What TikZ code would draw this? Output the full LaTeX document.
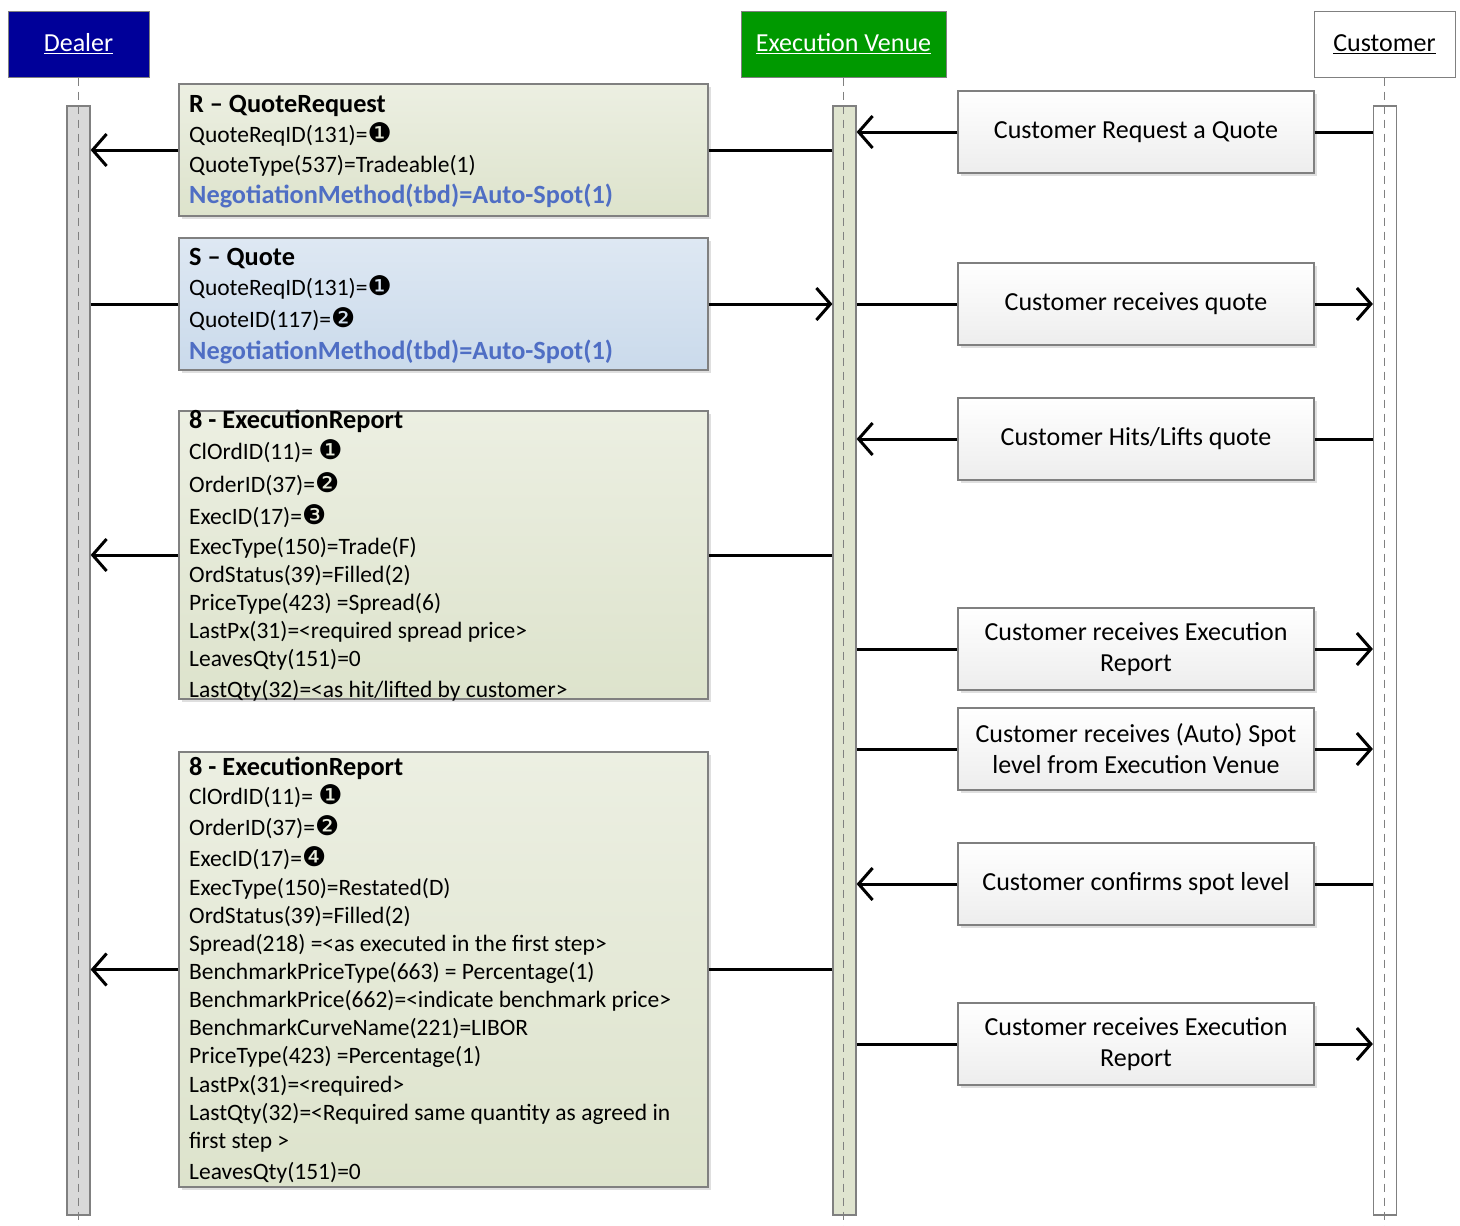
\documentclass[tikz,border=0pt]{standalone}
\usepackage{fontspec}
\setmainfont{Carlito}
\newfontfamily\dv{DejaVu Sans}
\usetikzlibrary{arrows.meta,shadows}
\definecolor{dealerblue}{RGB}{0,0,153}
\definecolor{venuegreen}{RGB}{0,153,0}
\definecolor{bordergray}{RGB}{128,128,128}
\definecolor{olivetop}{RGB}{236,239,226}
\definecolor{olivebot}{RGB}{221,227,204}
\definecolor{bluetop}{RGB}{222,232,243}
\definecolor{bluebot}{RGB}{202,218,235}
\definecolor{evbarfill}{RGB}{223,228,207}
\definecolor{negblue}{RGB}{79,110,196}
\newcommand\cn[1]{{\dv\fontsize{27}{28}\selectfont #1}}
\newcommand\bt[1]{{\fontsize{26.3}{28}\selectfont\bfseries #1}}
\newcommand\tl[3]{\node[lefttext] (#1) at (189,#2) {#3};}
\tikzset{
  head/.style={draw=bordergray, line width=1pt, minimum height=66pt, inner sep=0pt,
    font=\fontsize{26}{30}\selectfont},
  actbar/.style={draw=bordergray, line width=1.2pt, minimum width=23pt, minimum height=1109pt, inner sep=0pt},
  life/.style={draw=bordergray, line width=1pt, dash pattern=on 8pt off 6pt},
  msgbox/.style={draw=bordergray, line width=1.2pt, inner sep=0pt, minimum width=529pt,
    drop shadow={shadow xshift=3pt, shadow yshift=-3pt, opacity=0.25}},
  olivebox/.style={msgbox, top color=olivetop, bottom color=olivebot},
  bluebox/.style={msgbox, top color=bluetop, bottom color=bluebot},
  actbox/.style={draw=bordergray, line width=1.2pt, inner sep=0pt, minimum width=356pt, minimum height=82pt,
    top color=white, bottom color=black!7, align=center,
    font=\fontsize{26}{31}\selectfont,
    drop shadow={shadow xshift=3pt, shadow yshift=-3pt, opacity=0.25}},
  lefttext/.style={anchor=base west, inner sep=0pt, font=\fontsize{23.5}{28}\selectfont},
  plain/.style={line width=3pt},
  msg/.style={line width=3pt, -{Straight Barb[length=14pt, width=32pt]}},
}
\begin{document}
\begin{tikzpicture}[x=1pt,y=-1pt]
\useasboundingbox (0,0) rectangle (1460,1226);
% headers
\node[head, fill=dealerblue, text=white, minimum width=141pt] (dealer) at (78.5,44) {\underline{Dealer}};
\node[head, fill=venuegreen, text=white, minimum width=205pt] (venue) at (843.5,44) {\underline{Execution Venue}};
\node[head, fill=white, minimum width=141pt] (cust) at (1384.5,44) {\underline{Customer}};
% activation bars
\node[actbar, fill=black!15] (dbar) at (78.5,660.5) {};
\node[actbar, fill=evbarfill] (evbar) at (844.5,660.5) {};
\node[actbar, fill=white] (cbar) at (1385,660.5) {};
% lifelines
\coordinate (dend) at (78.5,1226);
\coordinate (vend) at (843.5,1226);
\coordinate (cend) at (1384.5,1226);
\draw[life] (dealer.south) -- (dend);
\draw[life] (venue.south) -- (vend);
\draw[life] (cust.south) -- (cend);

% left message boxes
\node[olivebox, minimum height=132pt] (rq) at (443.5,150) {};
\node[bluebox, minimum height=132pt] (sq) at (443.5,304) {};
\node[olivebox, minimum height=288pt] (er1) at (443.5,555) {};
\node[olivebox, minimum height=435pt] (er2) at (443.5,969.5) {};

% arrows left
\draw[plain] (evbar.west |- rq.east) -- (rq.east);
\draw[msg] (rq.west) -- (dbar.east |- rq.west);
\draw[plain] (dbar.east |- sq.west) -- (sq.west);
\draw[msg] (sq.east) -- (evbar.west |- sq.east);
\draw[plain] (evbar.west |- er1.east) -- (er1.east);
\draw[msg] (er1.west) -- (dbar.east |- er1.west);
\draw[plain] (evbar.west |- er2.east) -- (er2.east);
\draw[msg] (er2.west) -- (dbar.east |- er2.west);

% texts box 1
\tl{a1}{112}{\bt{R – QuoteRequest}}
\tl{a2}{142}{QuoteReqID(131)=\cn{❶}}
\tl{a3}{172}{QuoteType(537)=Tradeable(1)}
\tl{a4}{203}{\textcolor{negblue}{\bt{NegotiationMethod(tbd)=Auto-Spot(1)}}}
% box 2
\tl{b1}{265}{\bt{S – Quote}}
\tl{b2}{295}{QuoteReqID(131)=\cn{❶}}
\tl{b3}{327}{QuoteID(117)=\cn{❷}}
\tl{b4}{359}{\textcolor{negblue}{\bt{NegotiationMethod(tbd)=Auto-Spot(1)}}}
% box 3
\tl{c1}{428}{\bt{8 - ExecutionReport}}
\tl{c2}{459}{ClOrdID(11)= \cn{❶}}
\tl{c3}{492}{OrderID(37)=\cn{❷}}
\tl{c4}{524}{ExecID(17)=\cn{❸}}
\tl{c5}{554}{ExecType(150)=Trade(F)}
\tl{c6}{582}{OrdStatus(39)=Filled(2)}
\tl{c7}{610}{PriceType(423) =Spread(6)}
\tl{c8}{638}{LastPx(31)=<required spread price>}
\tl{c9}{666}{LeavesQty(151)=0}
\tl{c10}{697}{LastQty(32)=<as hit/lifted by customer>}
% box 4
\tl{d1}{775}{\bt{8 - ExecutionReport}}
\tl{d2}{804}{ClOrdID(11)= \cn{❶}}
\tl{d3}{835}{OrderID(37)=\cn{❷}}
\tl{d4}{866}{ExecID(17)=\cn{❹}}
\tl{d5}{895}{ExecType(150)=Restated(D)}
\tl{d6}{923}{OrdStatus(39)=Filled(2)}
\tl{d7}{951}{Spread(218) =<as executed in the first step>}
\tl{d8}{979}{BenchmarkPriceType(663) = Percentage(1)}
\tl{d9}{1007}{BenchmarkPrice(662)=<indicate benchmark price>}
\tl{d10}{1035}{BenchmarkCurveName(221)=LIBOR}
\tl{d11}{1063}{PriceType(423) =Percentage(1)}
\tl{d12}{1092}{LastPx(31)=<required>}
\tl{d13}{1120}{LastQty(32)=<Required same quantity as agreed in}
\tl{d14}{1148}{first step >}
\tl{d15}{1179}{LeavesQty(151)=0}

% right action boxes
\node[actbox] (r1) at (1136,132) {Customer Request a Quote};
\node[actbox] (r2) at (1136,304) {Customer receives quote};
\node[actbox] (r3) at (1136,439) {Customer Hits/Lifts quote};
\node[actbox] (r4) at (1136,649) {Customer receives Execution\\Report};
\node[actbox] (r5) at (1136,749) {Customer receives (Auto) Spot\\level from Execution Venue};
\node[actbox] (r6) at (1136,884) {Customer confirms spot level};
\node[actbox] (r7) at (1136,1044) {Customer receives Execution\\Report};

% right arrows
\draw[plain] (r1.east) -- (cbar.west |- r1.east);
\draw[msg] (r1.west) -- (evbar.east |- r1.west);
\draw[plain] (evbar.east |- r2.west) -- (r2.west);
\draw[msg] (r2.east) -- (cbar.west |- r2.east);
\draw[plain] (r3.east) -- (cbar.west |- r3.east);
\draw[msg] (r3.west) -- (evbar.east |- r3.west);
\draw[plain] (evbar.east |- r4.west) -- (r4.west);
\draw[msg] (r4.east) -- (cbar.west |- r4.east);
\draw[plain] (evbar.east |- r5.west) -- (r5.west);
\draw[msg] (r5.east) -- (cbar.west |- r5.east);
\draw[plain] (r6.east) -- (cbar.west |- r6.east);
\draw[msg] (r6.west) -- (evbar.east |- r6.west);
\draw[plain] (evbar.east |- r7.west) -- (r7.west);
\draw[msg] (r7.east) -- (cbar.west |- r7.east);
\end{tikzpicture}
\end{document}
